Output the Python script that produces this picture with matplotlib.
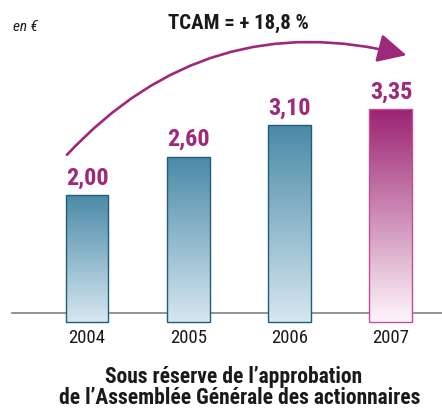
import numpy as np
import matplotlib
matplotlib.use("Agg")
import matplotlib.pyplot as plt
from matplotlib.colors import LinearSegmentedColormap
from matplotlib.patches import FancyArrowPatch

# données
annees = ["2004", "2005", "2006", "2007"]
dividendes = [2.00, 2.60, 3.10, 3.35]
etiquettes = ["2,00", "2,60", "3,10", "3,35"]

plt.rcParams['font.family'] = ['Roboto Condensed', 'DejaVu Sans']

violet = "#9E2879"
cmap_bleu = LinearSegmentedColormap.from_list("bleu", ["#D6E7F0", "#4A8AA7"])
cmap_violet = LinearSegmentedColormap.from_list("violet", ["#FFF6FB", "#9B2372"])

fig = plt.figure(figsize=(4.42, 4.09), dpi=100)
ax = fig.add_axes([0, 0, 1, 1])
ax.axis("off")

x = np.arange(len(annees))
largeur = 0.424

# ligne de base
ax.plot([-0.74, 3.6], [0.146, 0.146], color="#808080", lw=1.2, zorder=1)

bars = ax.bar(x, dividendes, width=largeur, color="none", zorder=3)
for i, b in enumerate(bars):
    dernier = i == len(bars) - 1
    cmap = cmap_violet if dernier else cmap_bleu
    grad = np.linspace(0, 1, 256).reshape(-1, 1)
    im = ax.imshow(grad, cmap=cmap, origin="lower", aspect="auto",
                   extent=(b.get_x(), b.get_x() + largeur, 0, dividendes[i]), zorder=2)
    im.set_clip_path(b)
    b.set_edgecolor("#C04E98" if dernier else "#1F5D79")
    b.set_linewidth(1.0)
    ax.text(x[i], dividendes[i] + 0.27, etiquettes[i], ha="center", va="center",
            fontsize=17.5, fontweight="bold", color=violet)
    ax.text(x[i], -0.25, annees[i], ha="center", va="center", fontsize=13.5, color="#1a1a1a")

# flèche TCAM
fleche = FancyArrowPatch((-0.217, 2.6), (3.18, 4.19), connectionstyle="arc3,rad=-0.30",
                         arrowstyle="-|>,head_length=1.1,head_width=0.55", mutation_scale=16,
                         color=violet, lw=1.9, zorder=4)
ax.add_patch(fleche)

ax.set_xlim(-0.859, 3.504)
ax.set_ylim(-1.37, 5.07)

fig.text(238 / 442, 1 - 23 / 409, "TCAM = + 18,8 %", ha="center", va="center",
         fontsize=15, fontweight="bold", color="#1a1a1a")
fig.text(13 / 442, 1 - 27 / 409, "en €", ha="left", va="center",
         fontsize=11, style="italic", color="#1a1a1a")
fig.text(234 / 442, 1 - 383 / 409, "Sous réserve de l’approbation", ha="center", va="baseline",
         fontsize=15.5, fontweight="bold", color="#1a1a1a")
fig.text(240 / 442, 1 - 404 / 409, "de l’Assemblée Générale des actionnaires", ha="center",
         va="baseline", fontsize=15.5, fontweight="bold", color="#1a1a1a")

fig.savefig("out.png", dpi=100)
